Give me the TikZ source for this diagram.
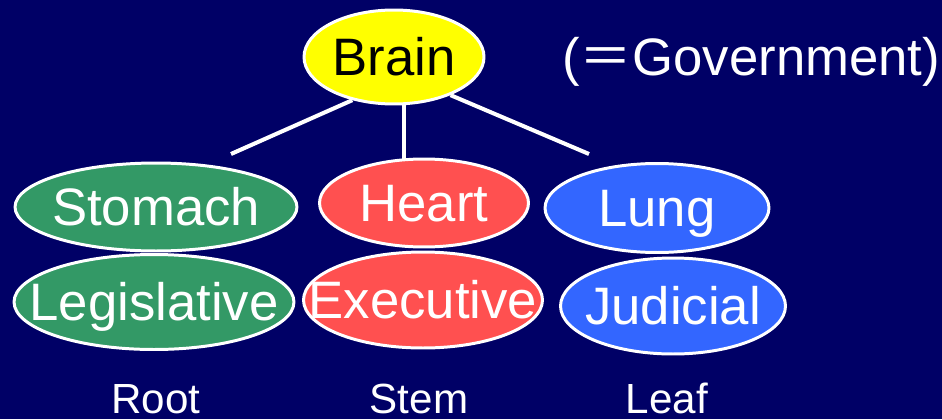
\documentclass[tikz,border=0pt]{standalone}
\usepackage{fontspec}
\setmainfont{Liberation Sans}
\newfontfamily\cjk{Noto Sans CJK JP}
\usetikzlibrary{shapes.geometric}
\definecolor{navy}{RGB}{0,0,102}
\definecolor{brainY}{RGB}{255,255,0}
\definecolor{rootG}{RGB}{51,153,102}
\definecolor{stemR}{RGB}{255,80,80}
\definecolor{leafB}{RGB}{51,102,255}
\newcommand\ctr[1]{\makebox[0pt]{#1}}
\tikzset{
  organ/.style  ={ellipse, draw=white, line width=1.7pt, inner sep=0pt,
                  text=white, font=\fontsize{30}{35}\selectfont,
                  text height=21.5pt, text depth=0pt},
  Lbrain/.style ={organ, fill=brainY, text=black},
  Lroot/.style  ={organ, fill=rootG},
  Lstem/.style  ={organ, fill=stemR},
  Lleaf/.style  ={organ, fill=leafB},
  branch/.style ={-, white, line width=2.3pt},
  part/.style   ={text=white, font=\fontsize{24}{28}\selectfont,
                  anchor=base, inner sep=0pt},
}

\begin{document}
\begin{tikzpicture}[x=0.02cm, y=-0.02cm]

\useasboundingbox (0,0) rectangle (942,419);
\fill[navy] (0,0) rectangle (942,419);

\node[Lbrain, minimum width=3.6cm, minimum height=1.88cm] (brain) at (394,57) {\ctr{Brain}};
\node[anchor=base west, inner sep=0pt, text=white, font=\fontsize{30}{35}\selectfont]
  (gov) at (562,75) {({\cjk ＝}Government)};

% upper row
\node[Lroot, minimum width=5.64cm, minimum height=1.76cm] (stomach) at (156,207) {\ctr{Stomach}};
\node[Lstem, minimum width=4.18cm, minimum height=1.76cm] (heart)   at (424,203) {\ctr{Heart}};
\node[Lleaf, minimum width=4.48cm, minimum height=1.78cm] (lung)    at (657,208) {\ctr{Lung}};

% lower row
\node[Lroot, minimum width=5.6cm,  minimum height=1.9cm]  (legis)   at (154,302) {\ctr{Legislative}};
\node[Lstem, minimum width=4.78cm, minimum height=1.92cm] (exec)    at (423,300) {\ctr{Executive}};
\node[Lleaf, minimum width=4.5cm,  minimum height=1.92cm] (judic)   at (673,306) {\ctr{Judicial}};

% branches
\coordinate (stomachTop) at (231,154);
\coordinate (heartTop)   at (404,160);
\coordinate (lungTop)    at (589,154);
\draw[branch] (brain.226) -- (stomachTop);
\draw[branch] (brain.south -| heartTop) -- (heartTop);
\draw[branch] (brain.326) -- (lungTop);

\node[part] (root) at (156,413) {Root};
\node[part] (stem) at (419,413) {Stem};
\node[part] (leaf) at (667,413) {Leaf};

\end{tikzpicture}
\end{document}
